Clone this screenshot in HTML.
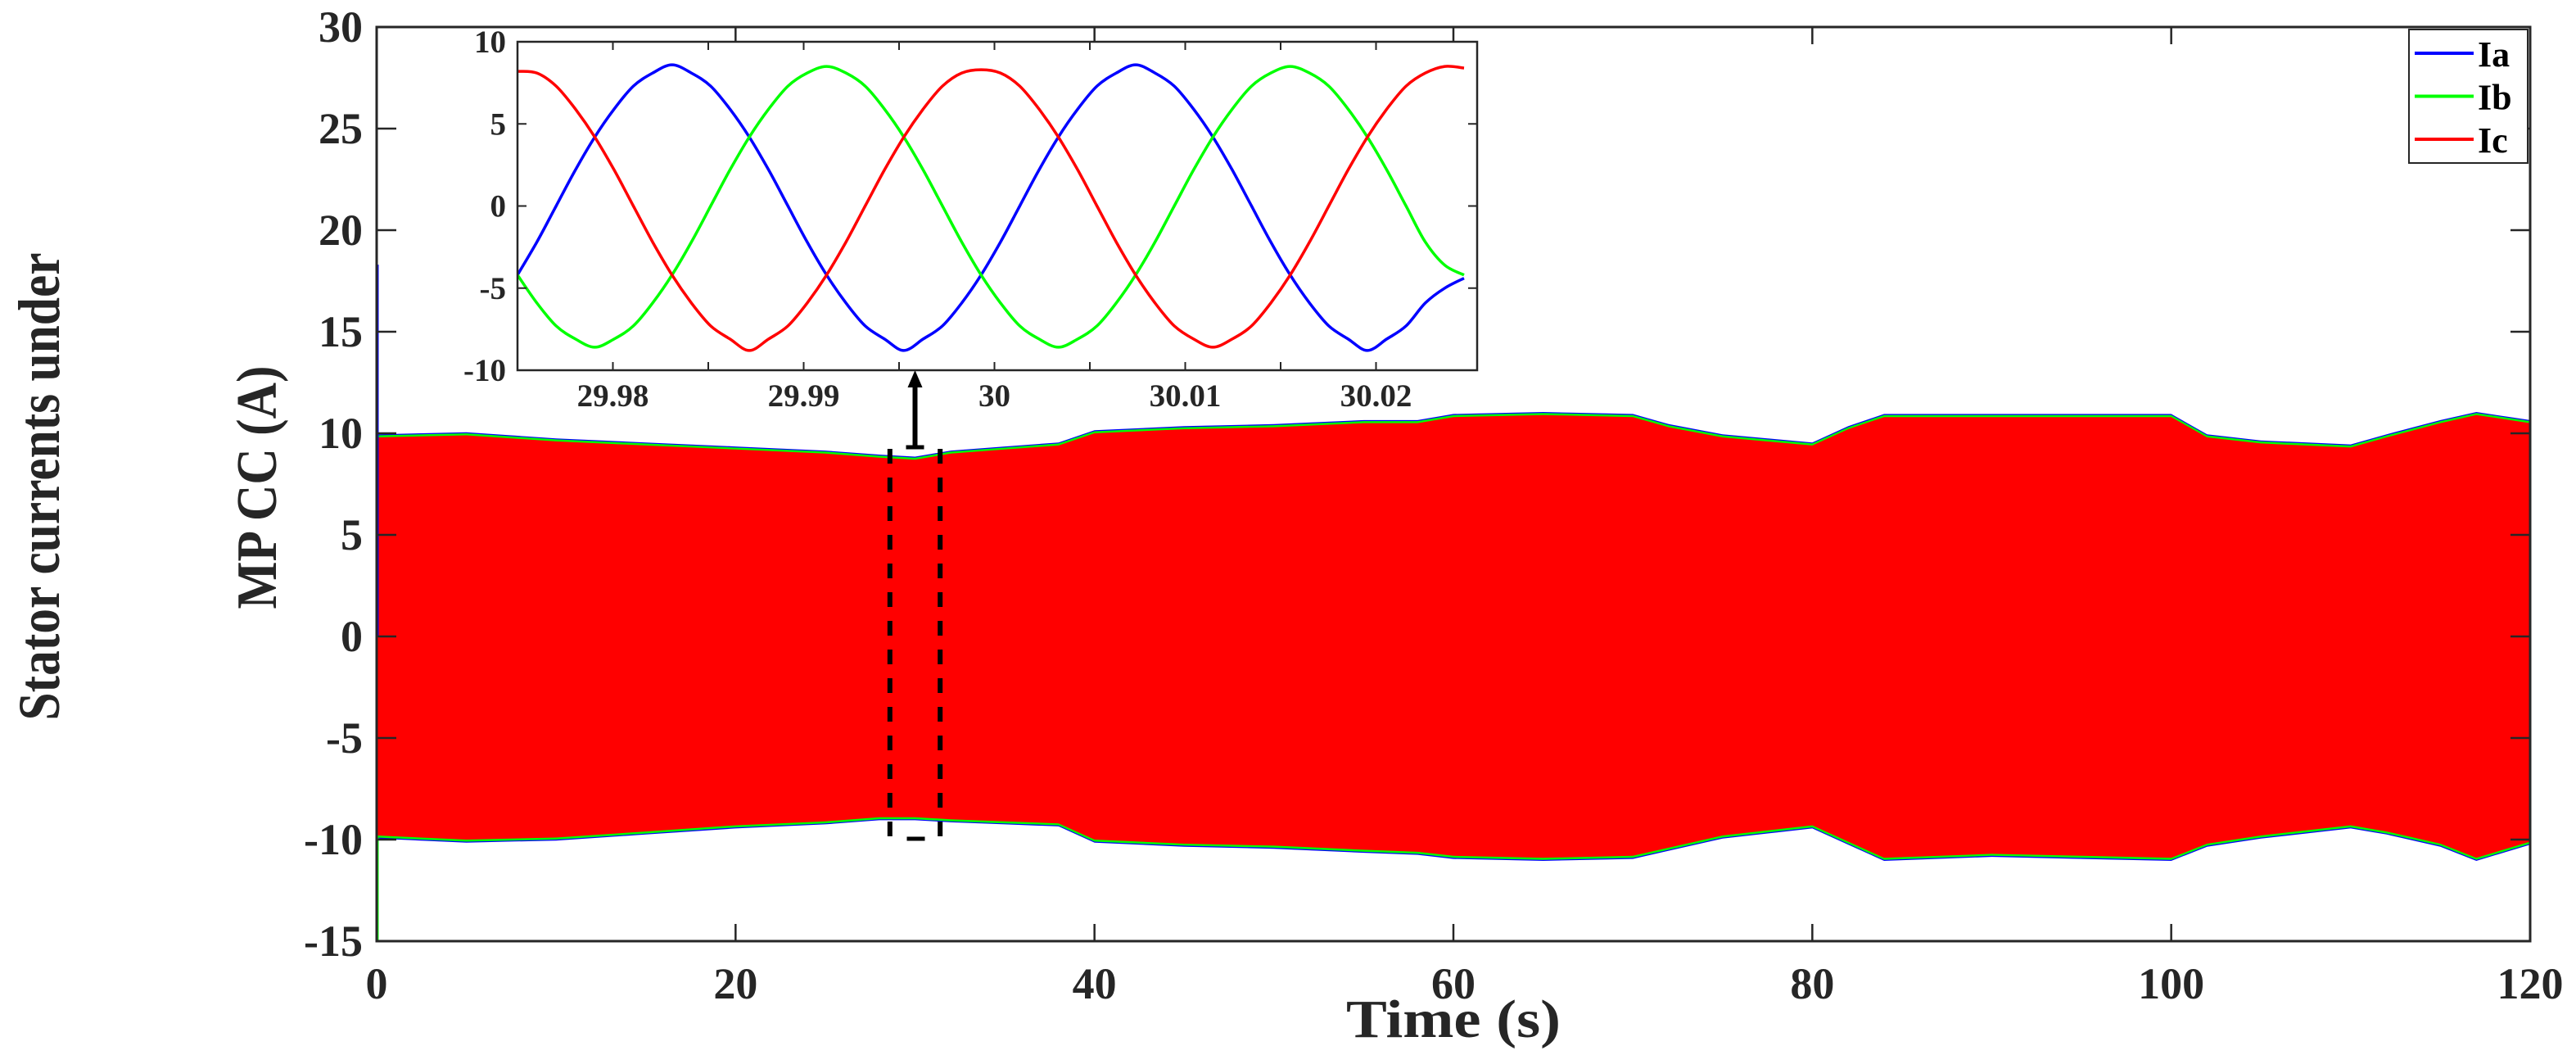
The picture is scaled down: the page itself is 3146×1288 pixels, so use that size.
<!DOCTYPE html>
<html><head><meta charset="utf-8"><title>Stator currents under MP CC</title>
<style>
html,body{margin:0;padding:0;background:#fff;}
svg{display:block;}
text{font-family:"Liberation Serif","DejaVu Serif",serif;font-weight:bold;fill:#262626;}
</style></head>
<body>
<svg id="chart" xmlns="http://www.w3.org/2000/svg" width="3146" height="1288" viewBox="0 0 3146 1288">
  <rect x="0" y="0" width="3146" height="1288" fill="#fff"/>
  <g id="mainMarks"></g>
  <g id="mainAxes"></g>
  <g id="zoomMarker"></g>
  <g id="inset"></g>
  <g id="legend"></g>
  <text x="1775" y="1266" font-size="66" text-anchor="middle" textLength="262" lengthAdjust="spacingAndGlyphs">Time (s)</text>
  <text transform="translate(337,595) rotate(-90)" font-size="70" text-anchor="middle" textLength="297" lengthAdjust="spacingAndGlyphs">MP CC (A)</text>
  <text transform="translate(72,594) rotate(-90)" font-size="72" text-anchor="middle" textLength="571" lengthAdjust="spacingAndGlyphs">Stator currents under</text>
</svg>
<script>
// ---- main chart data ----
const xTicks = [0, 20, 40, 60, 80, 100, 120];
const yTicks = [-15, -10, -5, 0, 5, 10, 15, 20, 25, 30];
const envTimes = [0, 5, 10, 15, 20, 25, 28, 30, 32, 35, 38, 40, 45, 50, 55, 58, 60, 65, 70, 72, 75, 80, 82, 84, 90, 95, 100, 102, 105, 110, 112, 115, 117, 120];
const envUpper = [9.8, 9.9, 9.6, 9.4, 9.2, 9.0, 8.8, 8.7, 9.0, 9.2, 9.4, 10.0, 10.2, 10.3, 10.5, 10.5, 10.8, 10.9, 10.8, 10.3, 9.8, 9.4, 10.2, 10.8, 10.8, 10.8, 10.8, 9.8, 9.5, 9.3, 9.8, 10.5, 10.9, 10.5];
const envLower = [-9.8, -10.0, -9.9, -9.6, -9.3, -9.1, -8.9, -8.9, -9.0, -9.1, -9.2, -10.0, -10.2, -10.3, -10.5, -10.6, -10.8, -10.9, -10.8, -10.4, -9.8, -9.3, -10.1, -10.9, -10.7, -10.8, -10.9, -10.2, -9.8, -9.3, -9.6, -10.2, -10.9, -10.1];
const startSpikeIa = [0, 18.3];
const startSpikeIb = [0, -15];
const zoomWindow = [28.6, 31.4];

// ---- inset data ----
const insetXTicks = [29.98, 29.985, 29.99, 29.995, 30, 30.005, 30.01, 30.015, 30.02];
const insetXLabels = ["29.98", "", "29.99", "", "30", "", "30.01", "", "30.02"];
const insetYTicks = [-10, -5, 0, 5, 10];
const insetT0 = 29.975;
const insetDt = 0.0010125;
const Ia = [-4.2,-2.2,0,2.2,4.2,5.9,7.3,8.1,8.6,8.1,7.3,5.9,4.2,2.2,0,-2.2,-4.2,-5.9,-7.3,-8.1,-8.8,-8.1,-7.3,-5.9,-4.2,-2.2,0,2.2,4.2,5.9,7.3,8.1,8.6,8.1,7.3,5.9,4.2,2.2,0,-2.2,-4.2,-5.9,-7.3,-8.1,-8.8,-8.1,-7.3,-5.9,-5.0,-4.4];
const Ib = [-4.2,-5.9,-7.3,-8.1,-8.6,-8.1,-7.3,-5.9,-4.2,-2.2,0,2.2,4.2,5.9,7.3,8.1,8.5,8.1,7.3,5.9,4.2,2.2,0,-2.2,-4.2,-5.9,-7.3,-8.1,-8.6,-8.1,-7.3,-5.9,-4.2,-2.2,0,2.2,4.2,5.9,7.3,8.1,8.5,8.1,7.3,5.9,4.2,2.2,0,-2.2,-3.6,-4.2];
const Ic = [8.2,8.1,7.3,5.9,4.2,2.2,0,-2.2,-4.2,-5.9,-7.3,-8.1,-8.8,-8.1,-7.3,-5.9,-4.2,-2.2,0,2.2,4.2,5.9,7.3,8.1,8.3,8.1,7.3,5.9,4.2,2.2,0,-2.2,-4.2,-5.9,-7.3,-8.1,-8.6,-8.1,-7.3,-5.9,-4.2,-2.2,0,2.2,4.2,5.9,7.3,8.1,8.5,8.4];

const NS = "http://www.w3.org/2000/svg";
function mk(tag, parent, attrs) {
  const e = document.createElementNS(NS, tag);
  for (const k in attrs) e.setAttribute(k, attrs[k]);
  parent.appendChild(e);
  return e;
}

const L = 460, R = 3090, T = 33, B = 1149;
const xMin = 0, xMax = 120, yMin = -15, yMax = 30;
const sx = v => L + (v - xMin) / (xMax - xMin) * (R - L);
const sy = v => B - (v - yMin) / (yMax - yMin) * (B - T);

const marks = document.getElementById('mainMarks');
function envPath(off) {
  let d = '';
  envTimes.forEach((t, i) => { d += (i ? 'L' : 'M') + sx(t).toFixed(1) + ',' + sy(envUpper[i] + off).toFixed(1); });
  for (let i = envTimes.length - 1; i >= 0; i--) d += 'L' + sx(envTimes[i]).toFixed(1) + ',' + sy(envLower[i] - off).toFixed(1);
  return d + 'Z';
}
const bandA = mk('path', marks, {d: envPath(0.15), fill: '#0000ff'});


const bandB = mk('path', marks, {d: envPath(0.1), fill: '#00ff00'});


const bandC = mk('path', marks, {d: envPath(0), fill: '#ff0000'});


const spA = mk('line', marks, {x1: sx(0) + 1, x2: sx(0) + 1, y1: sy(startSpikeIa[0]), y2: sy(startSpikeIa[1]), stroke: '#0000ff', 'stroke-width': 3});


const spB = mk('line', marks, {x1: sx(0) + 1, x2: sx(0) + 1, y1: sy(-9.8), y2: sy(startSpikeIb[1]), stroke: '#00ff00', 'stroke-width': 3});



const ax = document.getElementById('mainAxes');
const frame = mk('rect', ax, {x: L, y: T, width: R - L, height: B - T, fill: 'none', stroke: '#262626', 'stroke-width': 3});


xTicks.forEach(v => {
  const x = sx(v);
  const t1 = mk('line', ax, {x1: x, x2: x, y1: B, y2: B - 21, stroke: '#262626', 'stroke-width': 2.5});
  
  
  const t2 = mk('line', ax, {x1: x, x2: x, y1: T, y2: T + 21, stroke: '#262626', 'stroke-width': 2.5});
  
  
  const lb = mk('text', ax, {x: x, y: 1219, 'font-size': 54, 'text-anchor': 'middle'});
  lb.textContent = v;
  
  
});
yTicks.forEach(v => {
  const y = sy(v);
  const t1 = mk('line', ax, {x1: L, x2: L + 24, y1: y, y2: y, stroke: '#262626', 'stroke-width': 2.5});
  
  
  const t2 = mk('line', ax, {x1: R, x2: R - 24, y1: y, y2: y, stroke: '#262626', 'stroke-width': 2.5});
  
  
  const lb = mk('text', ax, {x: 443, y: y + 18, 'font-size': 54, 'text-anchor': 'end'});
  lb.textContent = v;
  
  
});

const zm = document.getElementById('zoomMarker');
zoomWindow.forEach(t => {
  const d = mk('line', zm, {x1: sx(t), x2: sx(t), y1: 548, y2: 1022, stroke: '#000', 'stroke-width': 6, 'stroke-dasharray': '18,17'});
  
  
});
const xm = (sx(zoomWindow[0]) + sx(zoomWindow[1])) / 2;
const barTop = mk('line', zm, {x1: xm - 11, x2: xm + 11, y1: 546, y2: 546, stroke: '#000', 'stroke-width': 5});


const barBot = mk('line', zm, {x1: xm - 10, x2: xm + 12, y1: 1024, y2: 1024, stroke: '#000', 'stroke-width': 5});


const arr = mk('line', zm, {x1: xm, x2: xm, y1: 546, y2: 470, stroke: '#000', 'stroke-width': 6});


const head = mk('polygon', zm, {points: `${xm - 9},473 ${xm + 9},473 ${xm},452`, fill: '#000'});



const IL = 632, IR = 1804, IT = 51, IB = 452;
const ixMin = 29.975, ixMax = 30.0253, iyMin = -10, iyMax = 10;
const isx = v => IL + (v - ixMin) / (ixMax - ixMin) * (IR - IL);
const isy = v => IB - (v - iyMin) / (iyMax - iyMin) * (IB - IT);
const ins = document.getElementById('inset');
const ibg = mk('rect', ins, {x: IL, y: IT, width: IR - IL, height: IB - IT, fill: '#fff'});


const defs = mk('defs', ins, {});
const cp = mk('clipPath', defs, {id: 'insetClip'});
mk('rect', cp, {x: IL, y: IT, width: IR - IL, height: IB - IT});
function smoothPath(vals) {
  const pts = vals.map((v, i) => [isx(insetT0 + i * insetDt), isy(v)]);
  let d = 'M' + pts[0][0].toFixed(1) + ',' + pts[0][1].toFixed(1);
  for (let i = 0; i < pts.length - 1; i++) {
    const p0 = pts[Math.max(0, i - 1)], p1 = pts[i], p2 = pts[i + 1], p3 = pts[Math.min(pts.length - 1, i + 2)];
    const c1 = [p1[0] + (p2[0] - p0[0]) / 6, p1[1] + (p2[1] - p0[1]) / 6];
    const c2 = [p2[0] - (p3[0] - p1[0]) / 6, p2[1] - (p3[1] - p1[1]) / 6];
    d += 'C' + c1[0].toFixed(1) + ',' + c1[1].toFixed(1) + ' ' + c2[0].toFixed(1) + ',' + c2[1].toFixed(1) + ' ' + p2[0].toFixed(1) + ',' + p2[1].toFixed(1);
  }
  return d;
}
const lineG = mk('g', ins, {'clip-path': 'url(#insetClip)'});
const la = mk('path', lineG, {d: smoothPath(Ia), fill: 'none', stroke: '#0000ff', 'stroke-width': 3.5});


const lbL = mk('path', lineG, {d: smoothPath(Ib), fill: 'none', stroke: '#00ff00', 'stroke-width': 3.5});


const lc = mk('path', lineG, {d: smoothPath(Ic), fill: 'none', stroke: '#ff0000', 'stroke-width': 3.5});


const iframe = mk('rect', ins, {x: IL, y: IT, width: IR - IL, height: IB - IT, fill: 'none', stroke: '#262626', 'stroke-width': 2.5});


insetXTicks.forEach((v, i) => {
  const x = isx(v);
  const t1 = mk('line', ins, {x1: x, x2: x, y1: IB, y2: IB - 10, stroke: '#262626', 'stroke-width': 2});
  
  
  const t2 = mk('line', ins, {x1: x, x2: x, y1: IT, y2: IT + 10, stroke: '#262626', 'stroke-width': 2});
  
  
  if (insetXLabels[i]) {
    const lb = mk('text', ins, {x: x, y: 496, 'font-size': 39, 'text-anchor': 'middle'});
    lb.textContent = insetXLabels[i];
    
    
  }
});
insetYTicks.forEach(v => {
  const y = isy(v);
  const t1 = mk('line', ins, {x1: IL, x2: IL + 11, y1: y, y2: y, stroke: '#262626', 'stroke-width': 2});
  
  
  const t2 = mk('line', ins, {x1: IR, x2: IR - 11, y1: y, y2: y, stroke: '#262626', 'stroke-width': 2});
  
  
  const lb = mk('text', ins, {x: 618, y: y + 13, 'font-size': 39, 'text-anchor': 'end'});
  lb.textContent = v;
  
  
});

const lg = document.getElementById('legend');
const lbox = mk('rect', lg, {x: 2942, y: 36, width: 145, height: 163, fill: '#fff', stroke: '#262626', 'stroke-width': 2});


const legNames = ['Ia', 'Ib', 'Ic'];
const legColors = ['#0000ff', '#00ff00', '#ff0000'];
legNames.forEach((n, i) => {
  const y = 65 + i * 52.5;
  const g = mk('g', lg, {});
  
  
  mk('line', g, {x1: 2949, x2: 3021, y1: y, y2: y, stroke: legColors[i], 'stroke-width': 4});
  const t = mk('text', g, {x: 3026, y: y + 16, 'font-size': 44, style: 'fill:#000'});
  t.textContent = n;
});
</script>
</body></html>
